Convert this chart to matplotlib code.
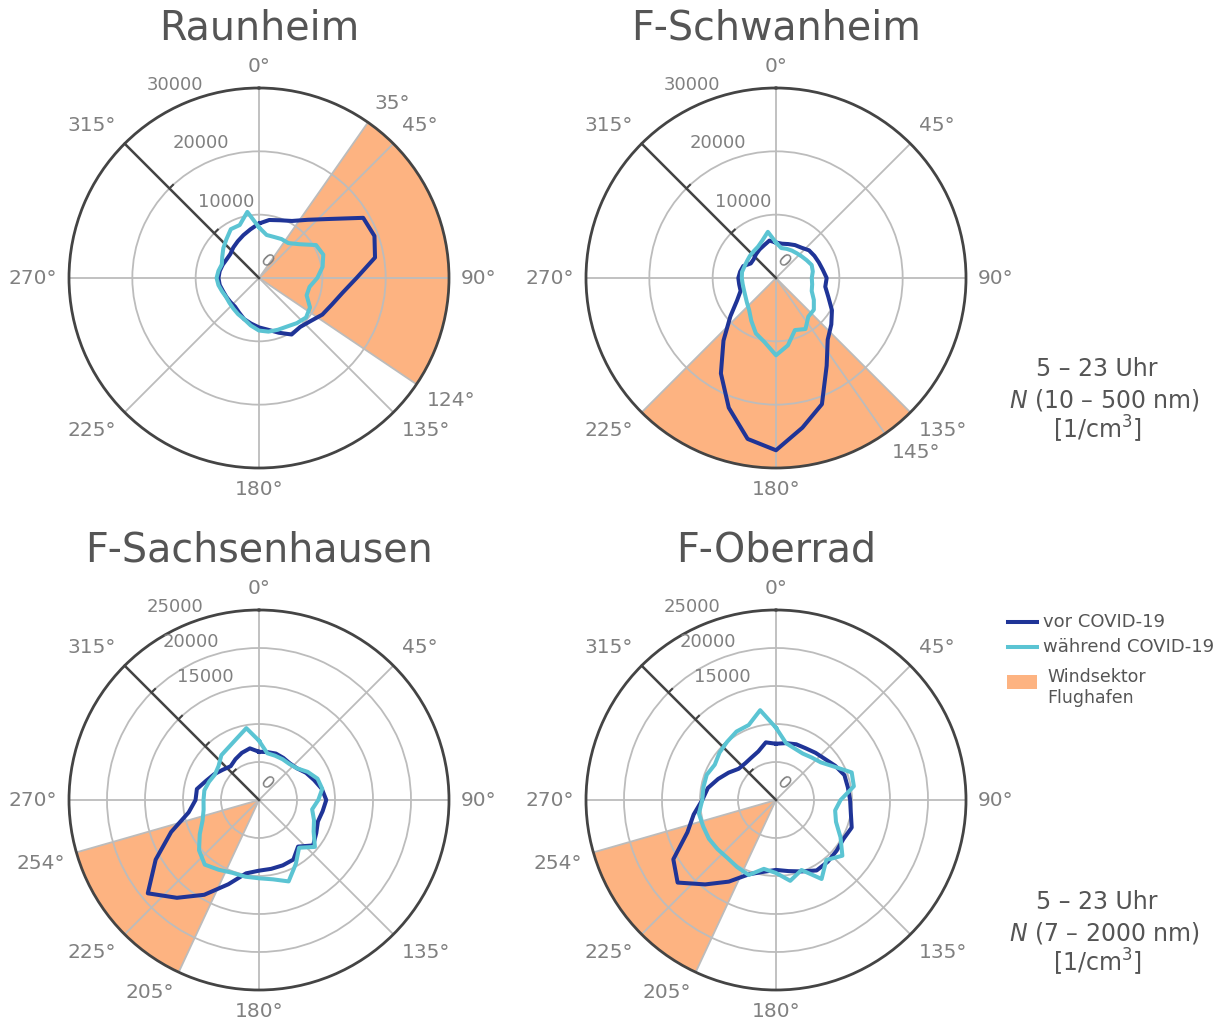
import numpy as np
import matplotlib.pyplot as plt
from matplotlib.lines import Line2D
from matplotlib.patches import Rectangle

plt.rcParams['font.family'] = 'DejaVu Sans'

# wind direction bins (deg), one value per 10 degrees
angles = np.arange(0, 360, 10)

stations = ['Raunheim', 'F-Schwanheim', 'F-Sachsenhausen', 'F-Oberrad']

raunheim_vor = [8600, 9300, 9700, 10400, 12000, 14500, 19000, 19400, 18600, 15400,
                13400, 12250, 11550, 10600, 10100, 10300, 9200, 8300, 7800, 7300,
                6900, 6300, 5900, 5900, 5950, 6050, 6300, 6400, 6300, 6100,
                5900, 5900, 6300, 6700, 7200, 7800]
raunheim_waehrend = [8000, 6900, 6900, 7100, 7200, 8300, 10400, 10800, 10200, 9200,
                     8100, 8000, 9300, 9700, 9300, 8850, 8700, 8600, 8300, 7600,
                     6900, 6600, 6300, 6100, 6000, 6200, 6500, 6700, 6500, 6250,
                     6700, 7350, 8000, 8900, 8900, 10600]

schwanheim_vor = [5600, 5500, 5700, 6000, 6250, 6800, 7000, 7200, 7500, 8000,
                  7900, 8800, 10200, 11400, 12700, 16000, 21200, 24000, 27200, 25800,
                  21800, 17400, 12900, 9400, 7100, 5950, 5900, 5950, 5750, 5500,
                  4600, 4600, 4900, 5200, 5500, 6000]
schwanheim_waehrend = [5600, 4800, 4900, 5000, 5100, 5300, 5600, 6000, 5900, 5650,
                       5800, 6000, 6900, 7800, 7950, 9300, 8750, 10800, 12200, 10300,
                       9300, 7800, 6600, 6000, 5600, 5400, 5350, 5400, 5450, 5300,
                       5300, 5400, 5500, 5700, 6300, 7400]

sachsenhausen_vor = [6350, 6400, 6500, 6400, 6300, 6500, 7150, 7700, 8400, 8850,
                     8500, 8250, 8700, 9300, 8000, 9050, 9150, 9200, 9300, 9800,
                     11800, 14400, 16800, 19100, 15700, 12300, 9400, 8350, 8300, 7400,
                     6800, 6200, 5800, 6200, 6600, 6900]
sachsenhausen_waehrend = [7800, 6250, 6200, 6200, 6200, 6500, 7400, 8200, 8450, 7800,
                          7100, 7700, 8300, 9600, 8200, 9700, 11400, 10600, 10300, 10250,
                          10200, 10600, 11100, 10300, 9000, 7900, 7400, 7300, 7300, 7000,
                          6700, 6950, 7700, 8000, 8600, 9600]

oberrad_vor = [7400, 7600, 7800, 7850, 8100, 8400, 9000, 9580, 9600, 9750,
               10000, 10600, 10250, 10400, 10600, 10700, 10000, 9500, 9200, 9600,
               10400, 12400, 14500, 16900, 15600, 12400, 11000, 9700, 9100, 8100,
               7200, 6400, 6300, 6450, 6800, 7700]
oberrad_waehrend = [9500, 7600, 7200, 7050, 7300, 7700, 8800, 10600, 10400, 8500,
                    7900, 8400, 9800, 11400, 10300, 12000, 9800, 10800, 9600, 9200,
                    10500, 10200, 9950, 10050, 10200, 10200, 10300, 9700, 9700, 9700,
                    9300, 9700, 10000, 10400, 10500, 12000]

vor = [raunheim_vor, schwanheim_vor, sachsenhausen_vor, oberrad_vor]
waehrend = [raunheim_waehrend, schwanheim_waehrend, sachsenhausen_waehrend, oberrad_waehrend]

# airport wind sector (from, to) in degrees
sectors = [(35, 124), (135, 225), (205, 254), (205, 254)]

theta_ticks = [[0, 35, 45, 90, 124, 135, 180, 225, 270, 315],
               [0, 45, 90, 135, 145, 180, 225, 270, 315],
               [0, 45, 90, 135, 180, 205, 225, 254, 270, 315],
               [0, 45, 90, 135, 180, 205, 225, 254, 270, 315]]

r_max = [30000, 30000, 25000, 25000]
r_grid = [[10000, 20000], [10000, 20000],
          [5000, 10000, 15000, 20000], [5000, 10000, 15000, 20000]]
r_labels = [[10000, 20000, 30000], [10000, 20000, 30000],
            [15000, 20000, 25000], [15000, 20000, 25000]]

DARK = '#1f3497'
CYAN = '#5bc4d3'
ORANGE = '#fdb381'
GRID = '#bcbcbc'
AXIS = '#444444'
TICK = '#808080'
TEXT = '#555555'

W, H = 1220, 1025
fig = plt.figure(figsize=(W / 100, H / 100), dpi=100)
renderer = fig.canvas.get_renderer()

centers = [(259, 278), (776, 278), (259, 800), (776, 800)]
R = 190

for i in range(4):
    cx, cy = centers[i]
    ax = fig.add_axes([(cx - R) / W, 1 - (cy + R) / H, 2 * R / W, 2 * R / H],
                      projection='polar')
    ax.set_theta_zero_location('N')
    ax.set_theta_direction(-1)
    rmax = r_max[i]

    s0, s1 = sectors[i]
    ax.bar(np.deg2rad((s0 + s1) / 2), rmax, width=np.deg2rad(s1 - s0),
           color=ORANGE, linewidth=0, zorder=1)

    th = np.deg2rad(np.r_[angles, angles[0]])
    ax.plot(th, np.r_[vor[i], vor[i][0]], color=DARK, lw=2.9, zorder=4)
    ax.plot(th, np.r_[waehrend[i], waehrend[i][0]], color=CYAN, lw=2.9, zorder=4)

    ax.set_ylim(0, rmax)
    ax.set_thetagrids(theta_ticks[i], [''] * len(theta_ticks[i]))
    ax.set_yticks(r_grid[i])
    ax.set_yticklabels([])
    ax.grid(color=GRID, lw=1.3)
    ax.spines['polar'].set_color(AXIS)
    ax.spines['polar'].set_linewidth(2)
    ax.tick_params(axis='x', direction='out', length=6, width=1.5, color=AXIS)
    ax.tick_params(axis='y', length=0)

    # angle labels: text box pushed just outside the rim
    for t in theta_ticks[i]:
        a = np.deg2rad(t)
        lab = ax.text(0.5, 0.5, f'{t}°', transform=ax.transAxes, ha='center',
                      va='center', fontsize=14.5, color=TICK, clip_on=False)
        bb = lab.get_window_extent(renderer)
        ox = (R + 12) * np.sin(a) + bb.width / 2 * np.clip(3 * np.sin(a), -1, 1)
        oy = (R + 12) * np.cos(a) + bb.height / 2 * np.clip(3 * np.cos(a), -1, 1)
        lab.set_position((0.5 + ox / (2 * R), 0.5 + oy / (2 * R)))

    # radial axis along 315 deg
    d = np.array([-np.sqrt(0.5), np.sqrt(0.5)])
    ax.plot([0.5, 0.5 + 0.5 * d[0]], [0.5, 0.5 + 0.5 * d[1]], transform=ax.transAxes,
            color=AXIS, lw=1.8, zorder=3, clip_on=False)
    perp = np.array([np.sqrt(0.5), np.sqrt(0.5)])
    for r in r_grid[i]:
        p = np.array([0.5, 0.5]) + 0.5 * r / rmax * d
        q = p + 5 / (2 * R) * perp
        ax.plot([p[0], q[0]], [p[1], q[1]], transform=ax.transAxes,
                color=AXIS, lw=1.5, zorder=3, clip_on=False)

    a = np.deg2rad(336.5)
    for v in r_labels[i]:
        rr = 0.5 * v / rmax + 20 / (2 * R)
        ax.text(0.5 + rr * np.sin(a), 0.5 + rr * np.cos(a), str(v),
                transform=ax.transAxes, ha='center', va='center',
                fontsize=13, color=TICK, clip_on=False)
    ax.text(0.5 + 7.7 / (2 * R), 0.5 + 16.5 / (2 * R), '0', transform=ax.transAxes,
            ha='center', va='center', fontsize=13, color=TICK, rotation=-45)

    fig.text(cx / W, 1 - (cy - 250) / H, stations[i], ha='center', va='center',
             fontsize=28.5, color=TEXT)

# measurement info
for y0, size_range in [(400, '10 – 500 nm'), (933, '7 – 2000 nm')]:
    fig.text(1097 / W, 1 - (y0 - 31) / H, '5 – 23 Uhr', ha='center', va='center',
             fontsize=17, color=TEXT)
    fig.text(1104 / W, 1 - y0 / H, f'$N$ ({size_range})', ha='center', va='center',
             fontsize=17, color=TEXT)
    fig.text(1097 / W, 1 - (y0 + 29) / H, '[1/cm$^3$]', ha='center', va='center',
             fontsize=17, color=TEXT)

# legend
for y0, col, lab in [(622, DARK, 'vor COVID-19'), (647, CYAN, 'während COVID-19')]:
    fig.add_artist(Line2D([1008 / W, 1037 / W], [1 - y0 / H, 1 - y0 / H],
                          color=col, lw=2.9))
    fig.text(1043 / W, 1 - y0 / H, lab, ha='left', va='center', fontsize=13, color=TEXT)
fig.add_artist(Rectangle((1007 / W, 1 - 689 / H), 30 / W, 14 / H,
                         facecolor=ORANGE, edgecolor='none'))
fig.text(1047 / W, 1 - 677 / H, 'Windsektor', ha='left', va='center', fontsize=12.5, color=TEXT)
fig.text(1047 / W, 1 - 698 / H, 'Flughafen', ha='left', va='center', fontsize=12.5, color=TEXT)

fig.savefig('out.png', dpi=100)
